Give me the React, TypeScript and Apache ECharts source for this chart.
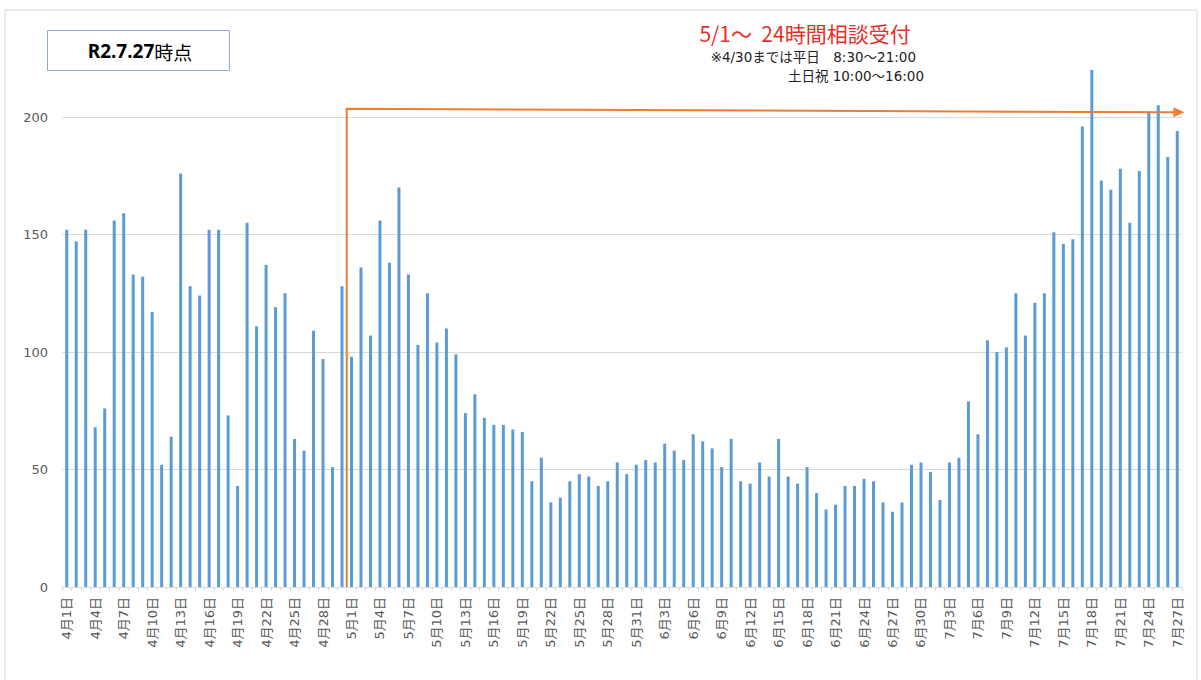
import React, { useEffect, useRef } from "react";
import * as echarts from "echarts";

// Daily consultation counts
const aprilValues = [152, 147, 152, 68, 76, 156, 159, 133, 132, 117, 52, 64, 176, 128, 124, 152, 152, 73, 43, 155, 111, 137, 119, 125, 63, 58, 109, 97, 51, 128];
const mayValues = [98, 136, 107, 156, 138, 170, 133, 103, 125, 104, 110, 99, 74, 82, 72, 69, 69, 67, 66, 45, 55, 36, 38, 45, 48, 47, 43, 45, 53, 48, 52];
const juneValues = [54, 53, 61, 58, 54, 65, 62, 59, 51, 63, 45, 44, 53, 47, 63, 47, 44, 51, 40, 33, 35, 43, 43, 46, 45, 36, 32, 36, 52, 53];
const julyValues = [49, 37, 53, 55, 79, 65, 105, 100, 102, 125, 107, 121, 125, 151, 146, 148, 196, 220, 173, 169, 178, 155, 177, 202, 205, 183, 194];

const monthSeries: [number, number[]][] = [
  [4, aprilValues],
  [5, mayValues],
  [6, juneValues],
  [7, julyValues],
];

const categories: string[] = [];
const values: number[] = [];
monthSeries.forEach(([m, arr]) => {
  arr.forEach((v, i) => {
    categories.push(`${m}月${i + 1}日`);
    values.push(v);
  });
});

const yTicks = [0, 50, 100, 150, 200];
const Y_MAX = 230;

// Annotation: 24h service from 5/1
const ARROW_START_CATEGORY = "5月1日";
const ARROW_LEFT_VALUE = 203.5;
const ARROW_RIGHT_VALUE = 202;

const titleText = "5/1～  24時間相談受付";
const noteLine1 = "※4/30までは平日　8:30～21:00";
const noteLine2 = "土日祝 10:00～16:00";
const stampDate = "R2.7.27";
const stampSuffix = "時点";

const FONT = "'Noto Sans CJK JP', 'Noto Sans', sans-serif";
const LABEL_FONT = "'DejaVu Sans', 'Noto Sans CJK JP', sans-serif";

export default function App() {
  const ref = useRef<HTMLDivElement>(null);

  useEffect(() => {
    if (!ref.current) return;
    const chart = echarts.init(ref.current, null, { renderer: "svg" });
    chart.setOption({
      animation: false,
      backgroundColor: "#ffffff",
      grid: { left: 62, right: 19, top: 46.5, bottom: 93, containLabel: false },
      xAxis: {
        type: "category",
        data: categories,
        axisLine: { lineStyle: { color: "#d9d9d9", width: 1 } },
        axisTick: { show: true, interval: 0, length: 4, lineStyle: { color: "#d9d9d9" } },
        axisLabel: {
          interval: 2,
          rotate: 90,
          margin: 10,
          fontSize: 13,
          color: "#595959",
          fontFamily: LABEL_FONT,
        },
      },
      yAxis: {
        type: "value",
        min: 0,
        max: Y_MAX,
        interval: 50,
        axisLine: { show: false },
        axisTick: { show: false },
        axisLabel: {
          margin: 14,
          fontSize: 13,
          color: "#595959",
          fontFamily: LABEL_FONT,
          showMaxLabel: false,
          formatter: (v: number) => (yTicks.includes(v) ? String(v) : ""),
        },
        splitLine: { show: true, showMaxLine: false, lineStyle: { color: "#d9d9d9", width: 1 } },
      },
      series: [
        {
          type: "bar",
          data: values,
          barWidth: 3,
          itemStyle: { color: "#5b9bd5" },
        },
      ],
    });

    const px = (c: string) => chart.convertToPixel({ xAxisIndex: 0 }, c) as number;
    const py = (v: number) => chart.convertToPixel({ yAxisIndex: 0 }, v) as number;
    const step = px(categories[1]) - px(categories[0]);
    const xStart = px(ARROW_START_CATEGORY) - step / 2;
    const xEnd = px(categories[categories.length - 1]) + step * 0.75;
    const y0 = py(0);
    const yL = py(ARROW_LEFT_VALUE);
    const yR = py(ARROW_RIGHT_VALUE);
    const orange = "#ed7d31";

    chart.setOption({
      graphic: [
        {
          type: "rect",
          shape: { x: 5, y: 10, width: 1192, height: 680 },
          style: { fill: "none", stroke: "#d9d9d9", lineWidth: 1 },
          silent: true,
          z: -1,
        },
        {
          type: "rect",
          shape: { x: 47.5, y: 30.5, width: 182, height: 40 },
          style: { fill: "#ffffff", stroke: "#8eaadb", lineWidth: 1 },
        },
        {
          type: "text",
          x: 140,
          y: 51,
          style: {
            text: `{a|${stampDate}}{b|${stampSuffix}}`,
            fontFamily: FONT,
            fill: "#000000",
            textAlign: "center",
            textVerticalAlign: "middle",
            rich: {
              a: { fontSize: 19, fontWeight: "bold", fontFamily: "'Liberation Sans Narrow', 'Noto Sans', sans-serif", fill: "#000000" },
              b: { fontSize: 19, fontWeight: "normal", fontFamily: FONT, fill: "#000000" },
            },
          },
        },
        {
          type: "text",
          x: 805,
          y: 33,
          style: {
            text: titleText,
            fontSize: 21,
            fontFamily: FONT,
            fill: "#e8302a",
            textAlign: "center",
            textVerticalAlign: "middle",
          },
        },
        {
          type: "text",
          x: 916,
          y: 57,
          style: {
            text: noteLine1,
            fontSize: 13.5,
            fontFamily: LABEL_FONT,
            fill: "#222222",
            textAlign: "right",
            textVerticalAlign: "middle",
          },
        },
        {
          type: "text",
          x: 924,
          y: 76,
          style: {
            text: noteLine2,
            fontSize: 13.5,
            fontFamily: LABEL_FONT,
            fill: "#222222",
            textAlign: "right",
            textVerticalAlign: "middle",
          },
        },
        {
          type: "polyline",
          shape: { points: [[xStart, y0], [xStart, yL], [xEnd - 10, yR]] },
          style: { stroke: orange, lineWidth: 2, fill: "none" },
          z: 10,
        },
        {
          type: "polygon",
          shape: { points: [[xEnd - 11, yR - 5], [xEnd, yR], [xEnd - 11, yR + 5]] },
          style: { fill: orange },
          z: 10,
        },
      ],
    });

    return () => chart.dispose();
  }, []);

  return (
    <div
      ref={ref}
      style={{ position: "absolute", left: 0, top: 0, width: 1201, height: 680 }}
    />
  );
}
